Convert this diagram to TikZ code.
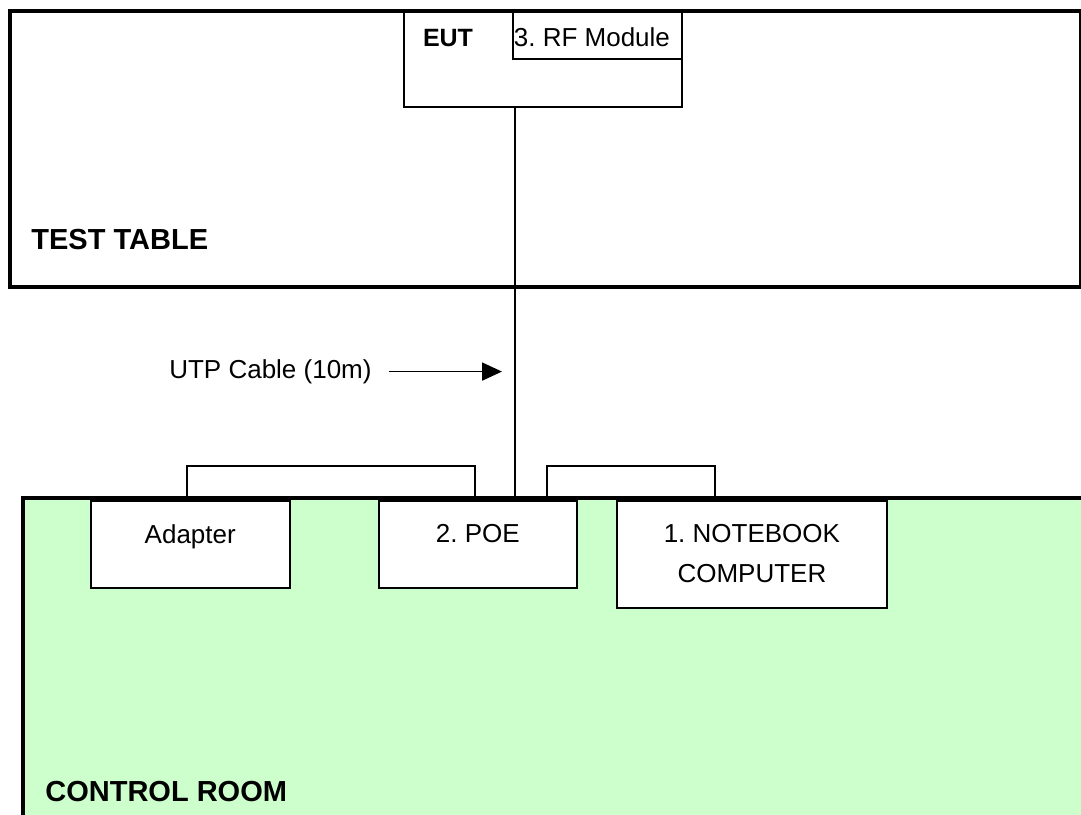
\documentclass[tikz,border=0pt]{standalone}
\usepackage{fontspec}
\setmainfont{Liberation Sans}
\usetikzlibrary{arrows.meta}
\definecolor{roomgreen}{HTML}{CCFFCC}
\frenchspacing

\begin{document}
\begin{tikzpicture}[x=0.5pt,y=-0.5pt,
    wire/.style={line width=0.9pt},
    wall/.style={line width=2.2pt},
    unit/.style={draw, line width=0.9pt, fill=white, inner sep=0pt, anchor=north west},
    txt/.style={font=\fontsize{13}{19.75}\selectfont, inner sep=0pt, align=center},
    title/.style={font=\fontsize{14.5}{17}\selectfont\bfseries, inner sep=0pt, anchor=base west}]
\useasboundingbox (0,0) rectangle (1081,814);

% EUT on the test table
\node[unit, minimum width=139.15pt, minimum height=47.6pt] (eut) at (402.7,10.8) {};
\node[unit, minimum width=84.5pt, minimum height=23.45pt] (rf) at (512,10.8) {};
\draw[wall] (10,10.8) rectangle (1081,287);
\node[font=\fontsize{12.5}{15}\selectfont\bfseries, inner sep=0pt, anchor=base] (eutlbl) at (448,46.7) {EUT};
\node[txt, anchor=base west] (rflbl) at (513.5,46.7) {3. RF Module};
\node[title] (tablelbl) at (31,249) {TEST TABLE};

% control room
\draw[wall, fill=roomgreen] (22.8,498) rectangle (1100,830);
\node[unit, minimum width=99.35pt, minimum height=43.35pt] (adapter) at (90,500) {};
\node[unit, minimum width=99pt, minimum height=43.35pt] (poe) at (378,500) {};
\node[unit, minimum width=135pt, minimum height=53.35pt] (notebook) at (616,500) {};
\node[txt, anchor=north] (adapterlbl) at ([yshift=-12.05pt]adapter.north) {Adapter};
\node[txt, anchor=north] (poelbl) at ([yshift=-12.05pt]poe.north) {2. POE};
\node[txt, anchor=north] (notebooklbl) at ([yshift=-12.05pt]notebook.north) {1. NOTEBOOK\\COMPUTER};
\node[title] (roomlbl) at (45,801.7) {CONTROL ROOM};

% cables
\draw[wire] ([xshift=-13.9pt]eut.south) -- ([xshift=18.5pt]poe.north);
\draw[wire] ([xshift=-1.6pt]adapter.north) -- ++(0,-34) -| ([xshift=-1.6pt]poe.north);
\draw[wire] ([xshift=34.5pt]poe.north) -- ++(0,-34) -| ([xshift=-18.5pt]notebook.north);

% cable label
\node[txt, anchor=base east] (utp) at (372,378.3) {UTP Cable (10m)};
\coordinate (tip) at (502,372.7);
\draw[wire, -{Triangle[length=10pt,width=9pt]}] ([xshift=8.5pt]utp.east) -- (utp.east -| tip);
\end{tikzpicture}
\end{document}
